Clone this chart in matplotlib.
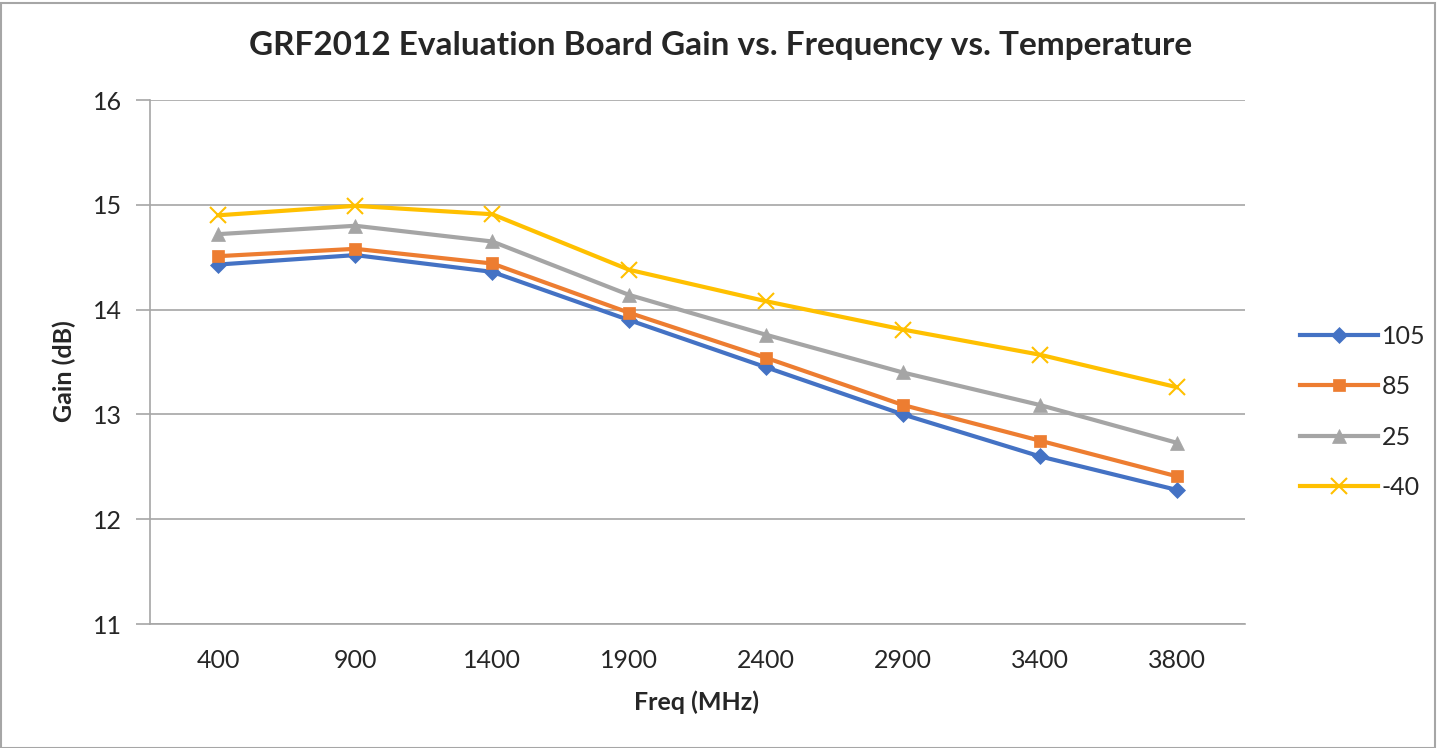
import matplotlib
matplotlib.use("Agg")
import matplotlib.pyplot as plt
from matplotlib.patches import Rectangle

freqs = ["400", "900", "1400", "1900", "2400", "2900", "3400", "3800"]
gain_105 = [14.43, 14.52, 14.36, 13.90, 13.45, 13.00, 12.60, 12.28]
gain_85 = [14.51, 14.58, 14.44, 13.97, 13.54, 13.09, 12.75, 12.41]
gain_25 = [14.72, 14.80, 14.65, 14.14, 13.76, 13.40, 13.09, 12.73]
gain_m40 = [14.90, 14.99, 14.91, 14.38, 14.08, 13.81, 13.57, 13.26]
series_names = ["105", "85", "25", "-40"]
yticks = [11, 12, 13, 14, 15, 16]

plt.rcParams['font.family'] = ['Lato', 'DejaVu Sans']

fig = plt.figure(figsize=(14.37, 7.48), dpi=100)
ax = fig.add_axes([150/1437, 1-624/748, (1245-150)/1437, (624-100)/748])

x = list(range(len(freqs)))
styles = [
    (gain_105, "#4472C4", "D", 8),
    (gain_85, "#ED7D31", "s", 9),
    (gain_25, "#A5A5A5", "^", 10),
    (gain_m40, "#FFC000", "x", 11),
]
for (vals, col, mk, ms), name in zip(styles, series_names):
    ax.plot(x, vals, color=col, lw=3, marker=mk, markersize=ms,
            markeredgewidth=1.5 if mk == "x" else 0.5, markeredgecolor=col,
            markerfacecolor=col, label=name, solid_joinstyle="round")

ax.set_xlim(-0.5, len(freqs) - 0.5)
ax.set_ylim(11, 16)
ax.set_yticks(yticks)
ax.set_xticks(x)
ax.set_xticklabels(freqs)
ax.grid(axis="y", color="#A6A6A6", lw=1.2)
ax.set_axisbelow(True)
for s in ["top", "right"]:
    ax.spines[s].set_visible(False)
for s in ["left", "bottom"]:
    ax.spines[s].set_color("#A6A6A6")
    ax.spines[s].set_linewidth(1.2)
ax.tick_params(axis="y", length=10, color="#A6A6A6", width=1.2, labelsize=18, labelcolor="#262626", pad=10)
ax.tick_params(axis="x", length=0, labelsize=18, labelcolor="#262626", pad=18)

ax.set_xlabel("Freq (MHz)", fontsize=18, fontweight="bold", color="#262626")
ax.set_ylabel("Gain (dB)", fontsize=18, fontweight="bold", color="#262626")
ax.yaxis.set_label_coords(76/1437, 1-371/748, transform=fig.transFigure)
ax.xaxis.set_label_coords(697/1437, 1-690/748, transform=fig.transFigure)
fig.text(721/1437, 1-46/748, "GRF2012 Evaluation Board Gain vs. Frequency vs. Temperature",
         ha="center", va="center", fontsize=24, fontweight="bold", color="#262626")

leg = ax.legend(loc="center left", bbox_to_anchor=(1.03, 0.405), frameon=False,
                fontsize=18, labelspacing=1.1, handlelength=3.1, handletextpad=0.15)
for t in leg.get_texts():
    t.set_color("#262626")

fig.patches.append(Rectangle((0.5/1437, 0.5/748), 1 - 1/1437 - 2/1437, 1 - 1/748 - 2/748,
                             transform=fig.transFigure, fill=False, edgecolor="#A6A6A6", lw=1.5))

fig.savefig("out.png", dpi=100)
